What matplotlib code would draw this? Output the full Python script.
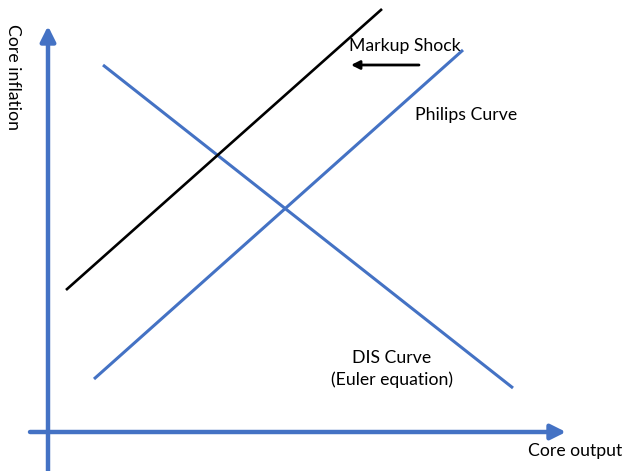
import matplotlib

matplotlib.use("Agg")
import matplotlib.pyplot as plt

# endpoints in picture units (x right, y up)
W, H = 624, 471
philips_x = [94, 463]
philips_y = [H - 379, H - 50]
dis_x = [103, 513]
dis_y = [H - 65, H - 388]
shock_x = [66, 382]
shock_y = [H - 290, H - 9]

BLUE = "#4472C4"

plt.rcParams["font.family"] = ["Lato", "DejaVu Sans"]

fig = plt.figure(figsize=(6.24, 4.71), dpi=100)
ax = fig.add_axes([0, 0, 1, 1])
ax.set_xlim(0, W)
ax.set_ylim(0, H)
ax.axis("off")

# axes arrows
arrow = dict(arrowstyle="-|>,head_length=0.9,head_width=0.45", color=BLUE, lw=3.2,
             shrinkA=0, shrinkB=0)
ax.annotate("", xy=(48, H - 26), xytext=(48, -2), arrowprops=arrow)
ax.annotate("", xy=(566, H - 432), xytext=(30, H - 432), arrowprops=arrow)

ax.plot(philips_x, philips_y, color=BLUE, lw=2.2, solid_capstyle="butt")
ax.plot(dis_x, dis_y, color=BLUE, lw=2.2, solid_capstyle="butt")
ax.plot(shock_x, shock_y, color="black", lw=1.9, solid_capstyle="butt")

# shift arrow
ax.annotate("", xy=(351, H - 65), xytext=(419, H - 65),
            arrowprops=dict(arrowstyle="-|>,head_length=0.5,head_width=0.25",
                            color="black", lw=2.0, shrinkA=0, shrinkB=0))

fs = 12.7
ax.text(405, H - 46, "Markup Shock", fontsize=fs, ha="center", va="center")
ax.text(466, H - 115, "Philips Curve", fontsize=fs, ha="center", va="center")
ax.text(392, H - 369, "DIS Curve\n(Euler equation)", fontsize=fs, ha="center",
        va="center", linespacing=1.4)
ax.text(575, H - 451, "Core output", fontsize=fs, ha="center", va="center")
ax.text(13, H - 77, "Core inflation", fontsize=fs, ha="center", va="center",
        rotation=-90)

fig.savefig("out.png", dpi=100)
